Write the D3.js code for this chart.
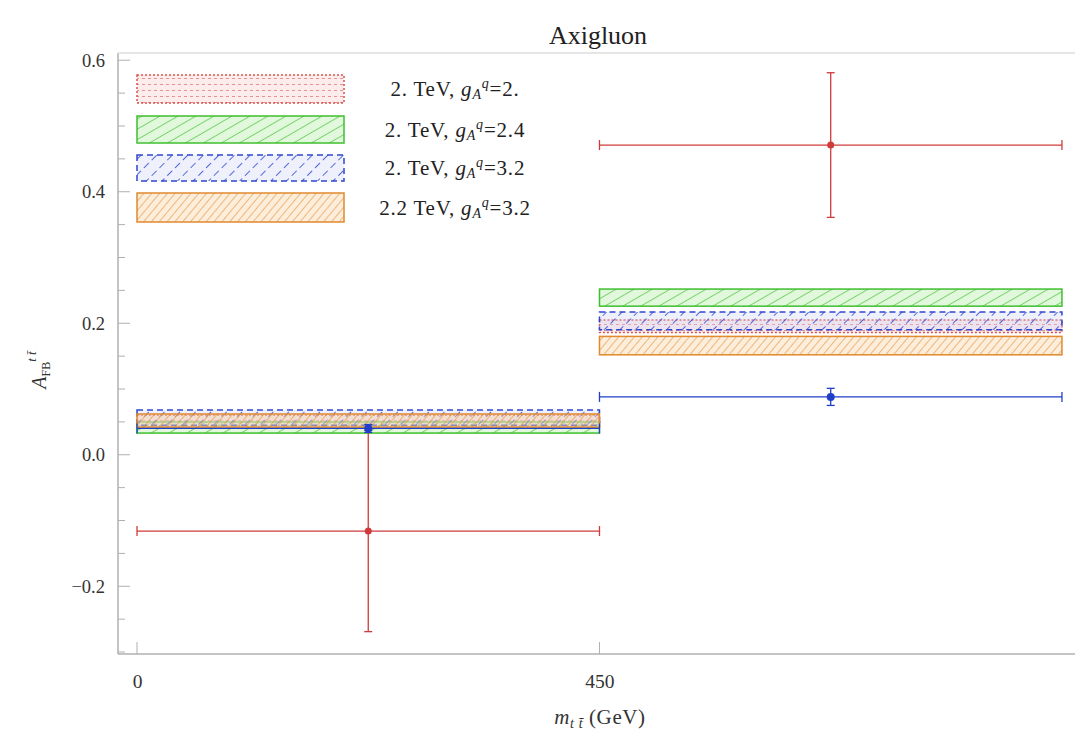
<!DOCTYPE html>
<html><head><meta charset="utf-8">
<script src="https://cdn.jsdelivr.net/npm/d3@7"></script>
<style>body{margin:0;background:#fff;} text{font-family:"Liberation Serif","DejaVu Serif",serif;}</style>
</head><body>
<svg id="c" width="1075" height="734"></svg>
<script>
// ---- data ----
const binEdges = [0, 450, 900];
const xTicks = [0, 450];
const yTicks = [-0.2, 0.0, 0.2, 0.4, 0.6];
const seriesNames = ["2. TeV, ", "2. TeV, ", "2. TeV, ", "2.2 TeV, "];
const seriesG = ["2.", "2.4", "3.2", "3.2"];
const bandLow  = [[0.044, 0.186], [0.033, 0.226], [0.045, 0.190], [0.042, 0.152]];
const bandHigh = [[0.060, 0.205], [0.050, 0.252], [0.068, 0.217], [0.062, 0.180]];
const drawOrder = [0, 1, 2, 3];
const measVal = [-0.116, 0.471];
const measErr = [0.153, 0.110];
const smVal = [0.040, 0.088];
const smErr = [0.006, 0.013];

const colors = ["#d9534f", "#3fbf2f", "#2f45d0", "#e0892e"];
const fills  = ["rgba(250,200,200,0.35)", "rgba(190,240,180,0.45)", "rgba(200,205,245,0.3)", "rgba(250,215,175,0.45)"];

const svg = d3.select("#c");
const x = d3.scaleLinear().domain([-18.5, 938]).range([118, 1101]);
const y = d3.scaleLinear().domain([-0.303, 0.611]).range([654, 53]);

// patterns
const defs = svg.append("defs");
function pat(id, size, angle, color, fill, dash, sw) {
  const p = defs.append("pattern").attr("id", id).attr("patternUnits", "userSpaceOnUse")
    .attr("width", size).attr("height", size).attr("patternTransform", `rotate(${angle})`);
  p.append("rect").attr("width", size).attr("height", size).attr("fill", fill);
  p.append("line").attr("x1", 0).attr("y1", 0).attr("x2", 0).attr("y2", size)
    .attr("stroke", color).attr("stroke-width", sw).attr("stroke-dasharray", dash || null);
}
pat("p0", 6, 90, colors[0], fills[0], "2,3", 1.2);
pat("p1", 9, 60, colors[1], fills[1], null, 1.3);
pat("p2", 11, 45, colors[2], fills[2], "6,4", 1.6);
pat("p3", 6, 40, colors[3], fills[3], null, 1.1);
const borderDash = ["2,2", null, "6,4", null];

// frame
const fr = svg.append("g").attr("stroke", "#b0b0b0").attr("stroke-width", 1.5).attr("fill", "none");
fr.append("line").attr("x1", 118).attr("x2", 118).attr("y1", 53).attr("y2", 654);
fr.append("line").attr("x1", 118).attr("x2", 1075).attr("y1", 654).attr("y2", 654);
fr.append("line").attr("x1", 118).attr("x2", 1075).attr("y1", 53).attr("y2", 53).attr("stroke", "#dcdcdc");

// y axis
const yAxis = d3.axisLeft(y).tickValues(yTicks).tickFormat(d3.format(".1f")).tickSize(0).tickPadding(13);
const ya = svg.append("g").attr("transform", "translate(118,0)").call(yAxis);
ya.select(".domain").remove();
ya.selectAll("text").attr("font-size", 18.5).attr("fill", "#333").text(d => d3.format(".1f")(d).replace("-", "\u2212"));
const yMinor = d3.range(-0.3, 0.61, 0.05);
svg.append("g").selectAll("line").data(yMinor).join("line")
  .attr("x1", 118).attr("x2", d => Math.abs(Math.round(d*100) % 20) === 0 ? 130 : 125)
  .attr("y1", d => y(d)).attr("y2", d => y(d)).attr("stroke", "#b0b0b0").attr("stroke-width", 1);

// x axis
const xAxis = d3.axisBottom(x).tickValues(xTicks).tickFormat(d3.format("d")).tickSize(0).tickPadding(20);
const xa = svg.append("g").attr("transform", "translate(0,654)").call(xAxis);
xa.select(".domain").remove();
xa.selectAll("text").attr("font-size", 19.5).attr("fill", "#333");
svg.append("g").selectAll("line").data(xTicks).join("line")
  .attr("x1", d => x(d)).attr("x2", d => x(d)).attr("y1", 654).attr("y2", 642)
  .attr("stroke", "#b0b0b0");

// bands
const bins = [0, 1];
const bandG = svg.append("g");
drawOrder.forEach(s => {
  bins.forEach(b => {
    bandG.append("rect")
      .attr("x", x(binEdges[b])).attr("width", x(binEdges[b+1]) - x(binEdges[b]))
      .attr("y", y(bandHigh[s][b])).attr("height", y(bandLow[s][b]) - y(bandHigh[s][b]))
      .attr("fill", `url(#p${s})`).attr("stroke", colors[s]).attr("stroke-width", 1.5)
      .attr("stroke-dasharray", borderDash[s]);
  });
});

// error bars
function errbars(vals, errs, color, r) {
  const g = svg.append("g").attr("stroke", color).attr("stroke-width", 1.3);
  bins.forEach(b => {
    const xc = (binEdges[b] + binEdges[b+1]) / 2;
    g.append("line").attr("x1", x(binEdges[b])).attr("x2", x(binEdges[b+1]))
      .attr("y1", y(vals[b])).attr("y2", y(vals[b]));
    [binEdges[b], binEdges[b+1]].forEach(e => g.append("line").attr("x1", x(e)).attr("x2", x(e))
      .attr("y1", y(vals[b]) - 5).attr("y2", y(vals[b]) + 5));
    g.append("line").attr("x1", x(xc)).attr("x2", x(xc))
      .attr("y1", y(vals[b] + errs[b])).attr("y2", y(vals[b] - errs[b]));
    [vals[b] + errs[b], vals[b] - errs[b]].forEach(v => g.append("line")
      .attr("x1", x(xc) - 4).attr("x2", x(xc) + 4).attr("y1", y(v)).attr("y2", y(v)));
    svg.append("circle").attr("cx", x(xc)).attr("cy", y(vals[b])).attr("r", r).attr("fill", color);
  });
}
errbars(measVal, measErr, "#d03a3a", 3.5);
errbars(smVal, smErr, "#1f3fc8", 4);

// legend
const lg = svg.append("g");
const legY = [75, 116, 155, 193];
const legH = [28, 27, 26, 29];
seriesNames.forEach((nm, i) => {
  lg.append("rect").attr("x", 137).attr("y", legY[i]).attr("width", 207).attr("height", legH[i])
    .attr("fill", `url(#p${i})`).attr("stroke", colors[i]).attr("stroke-width", 1.5)
    .attr("stroke-dasharray", borderDash[i]);
  const t = lg.append("text").attr("x", 455).attr("y", legY[i] + legH[i]/2 + 7)
    .attr("text-anchor", "middle").attr("font-size", 21).attr("letter-spacing", 0.8).attr("fill", "#222");
  t.append("tspan").text(nm);
  t.append("tspan").attr("font-style", "italic").text("g");
  t.append("tspan").attr("font-style", "italic").attr("font-size", 14).attr("dy", 3).text("A");
  t.append("tspan").attr("font-style", "italic").attr("font-size", 14).attr("dy", -11).text("q");
  t.append("tspan").attr("dy", 8).text("=" + seriesG[i]);
});

// title
svg.append("text").attr("x", 598).attr("y", 44).attr("text-anchor", "middle")
  .attr("font-size", 26).attr("fill", "#222").text("Axigluon");

// x label
const xl = svg.append("text").attr("x", 600).attr("y", 724).attr("text-anchor", "middle")
  .attr("font-size", 21).attr("letter-spacing", 0.6).attr("fill", "#333");
xl.append("tspan").attr("font-style", "italic").text("m");
xl.append("tspan").attr("font-style", "italic").attr("font-size", 14).attr("dy", 4).text("t t\u0304");
xl.append("tspan").attr("dy", -4).text(" (GeV)");

// y label
const yl = svg.append("text").attr("transform", "translate(46,370) rotate(-90)")
  .attr("text-anchor", "middle").attr("font-size", 20).attr("fill", "#333");
yl.append("tspan").attr("font-style", "italic").text("A");
yl.append("tspan").attr("font-size", 12).attr("dy", 4).text("FB");
yl.append("tspan").attr("font-style", "italic").attr("font-size", 13).attr("dy", -14).text("t t\u0304");
</script>
</body></html>
